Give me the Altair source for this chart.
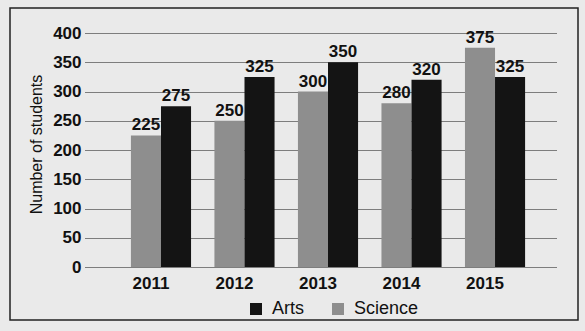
import altair as alt
import pandas as pd

years = ["2011", "2012", "2013", "2014", "2015"]
arts = [275, 325, 350, 320, 325]
science = [225, 250, 300, 280, 375]
y_ticks = [0, 50, 100, 150, 200, 250, 300, 350, 400]

rows = []
for i, yr in enumerate(years):
    rows.append({"year": yr, "subject": "Science", "students": science[i]})
    rows.append({"year": yr, "subject": "Arts", "students": arts[i]})
df = pd.DataFrame(rows)

FONT = "Liberation Sans"

x_enc = alt.X("year:N", sort=years, title=None,
              scale=alt.Scale(paddingInner=0.28, paddingOuter=0.466, align=0.59),
              axis=alt.Axis(labelAngle=0, labelFont=FONT, labelFontSize=17, labelFontWeight="bold",
                            labelColor="#111", labelPadding=8, labelOffset=-10,
                            ticks=False, domain=False, grid=False))
xo_enc = alt.XOffset("subject:N", sort=["Science", "Arts"],
                     scale=alt.Scale(paddingInner=0, paddingOuter=0))
y_enc = alt.Y("students:Q", title="Number of students",
              scale=alt.Scale(domain=[0, 400], nice=False),
              axis=alt.Axis(values=y_ticks, labelOverlap=False, labelFont=FONT, labelFontSize=17,
                            labelFontWeight="bold", labelColor="#111", labelPadding=4,
                            ticks=False, domain=False,
                            grid=True, gridColor="#111", gridDash=[1, 1], gridWidth=1,
                            titleFont=FONT, titleFontSize=16, titleFontWeight="normal",
                            titleColor="#111", titleX=-49, titleY=111, titleAngle=270,
                            titleAlign="center", titleBaseline="middle"))

bars = alt.Chart(df).mark_bar().encode(
    x=x_enc,
    xOffset=xo_enc,
    y=y_enc,
    color=alt.Color("subject:N",
                    scale=alt.Scale(domain=["Arts", "Science"], range=["#141414", "#8e8e8e"]),
                    legend=alt.Legend(title=None, orient="none", direction="horizontal",
                                      legendX=162, legendY=267, symbolType="square",
                                      symbolSize=144, symbolStrokeWidth=0,
                                      labelFont=FONT, labelFontSize=18, labelColor="#111",
                                      labelOffset=7, columnPadding=24, padding=0)),
)

labels = alt.Chart(df).mark_text(dy=-1, font=FONT, fontSize=17, fontWeight="bold",
                                 color="#111", baseline="bottom").encode(
    x=x_enc,
    xOffset=xo_enc,
    y=y_enc,
    text=alt.Text("students:Q"),
)

frame = alt.Chart(pd.DataFrame({"k": [0]})).mark_rect(
    fill=None, stroke="#222", strokeWidth=1.5).encode(
    x=alt.value(-75), x2=alt.value(493), y=alt.value(-25), y2=alt.value(287))

chart = alt.layer(bars, labels, frame).properties(
    width=472, height=234,
    autosize=alt.AutoSizeParams(type="none"),
    padding={"left": 85, "top": 33, "right": 28, "bottom": 64},
    background="#eaeaea",
).configure_view(stroke=None)

chart.save("out.html", embed_options={"renderer": "svg", "actions": False})
